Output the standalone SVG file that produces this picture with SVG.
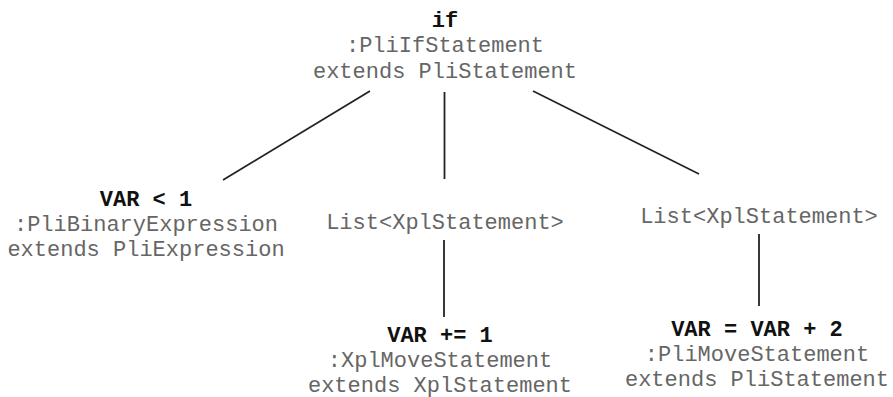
<svg xmlns="http://www.w3.org/2000/svg" width="893" height="397" viewBox="0 0 893 397">
  <style>
    text { font-family: "Liberation Mono", "Courier New", monospace; font-size: 22px; text-anchor: middle; }
    .name { font-weight: bold; fill: #111; }
    .type { fill: #666; }
    .edge { stroke: #222; stroke-width: 1.8; fill: none; }
  </style>
  <rect width="893" height="397" fill="#fff"/>

  <g id="connectors">
    <line class="edge" x1="370" y1="91" x2="223" y2="180"/>
    <line class="edge" x1="444.5" y1="92" x2="444.5" y2="179"/>
    <line class="edge" x1="533" y1="91" x2="699" y2="174"/>
    <line class="edge" x1="444" y1="240" x2="444" y2="317"/>
    <line class="edge" x1="759" y1="234" x2="759" y2="306"/>
  </g>

  <g id="if-node">
    <text class="name" x="445" y="26.5">if</text>
    <text class="type" x="445" y="52">:PliIfStatement</text>
    <text class="type" x="445" y="77.5">extends PliStatement</text>
  </g>

  <g id="condition-node">
    <text class="name" x="146" y="205.5">VAR &lt; 1</text>
    <text class="type" x="146" y="230.5">:PliBinaryExpression</text>
    <text class="type" x="146" y="256">extends PliExpression</text>
  </g>

  <g id="then-list">
    <text class="type" x="445" y="229">List&lt;XplStatement&gt;</text>
  </g>

  <g id="else-list">
    <text class="type" x="759" y="223">List&lt;XplStatement&gt;</text>
  </g>

  <g id="then-statement">
    <text class="name" x="440" y="341.5">VAR += 1</text>
    <text class="type" x="440" y="366.5">:XplMoveStatement</text>
    <text class="type" x="440" y="391.5">extends XplStatement</text>
  </g>

  <g id="else-statement">
    <text class="name" x="757" y="335.5">VAR = VAR + 2</text>
    <text class="type" x="757" y="360.5">:PliMoveStatement</text>
    <text class="type" x="757" y="385.5">extends PliStatement</text>
  </g>
</svg>
